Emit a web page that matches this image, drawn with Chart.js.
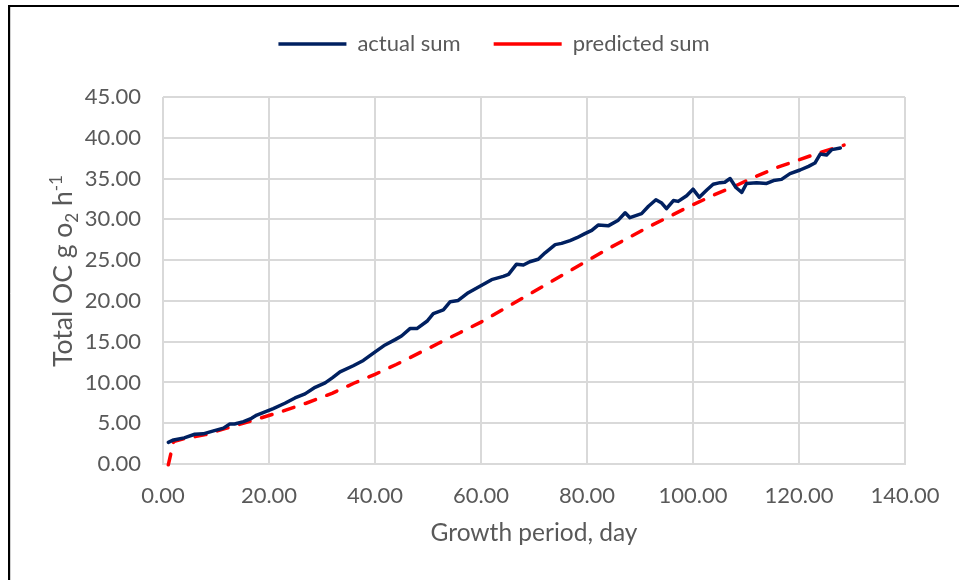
<!DOCTYPE html>
<html>
<head>
<meta charset="utf-8">
<script src="https://cdn.jsdelivr.net/npm/chart.js@4.4.1/dist/chart.umd.min.js"></script>
<style>
  html, body { margin: 0; padding: 0; background: #fff; }
  #wrap { width: 959px; height: 580px; position: relative; }
</style>
</head>
<body>
<div id="wrap"><canvas id="ocChart" width="959" height="580"></canvas></div>
<script>
// actual sum
const actualDays = [1, 2, 4, 6, 7.6, 9.2, 11.4, 12.6, 13.5, 15.2, 16.7, 17.7, 18.9, 20.8, 23, 24.9, 26.8, 28.7, 30.6, 32,
    33.4, 35.9, 37.8, 39.7, 41.9, 43.8, 45, 46.6, 47.9, 49.8, 51, 52.9, 54.2, 55.7, 57.6, 59.8, 62, 64.2, 65.2, 66.7,
    68, 69.2, 70.8, 72.1, 74, 75.2, 76.8, 78.1, 79.6, 80.9, 82.1, 84, 85.9, 87.2, 88.1, 90.3, 91.6, 93, 94.1, 95,
    96.3, 97.2, 98.8, 100, 101.2, 102.6, 103.8, 105.1, 106, 107, 108.1, 109.2, 110.1, 112, 113.9, 115.2, 116.7, 118.3, 120.2, 121.8,
    123, 124, 125.2, 126.2, 127.8];
const actualSum = [2.65, 2.95, 3.2, 3.65, 3.7, 4.0, 4.4, 4.9, 4.9, 5.2, 5.6, 6.0, 6.3, 6.8, 7.45, 8.1, 8.6, 9.4, 9.95, 10.6,
    11.3, 12.05, 12.7, 13.6, 14.6, 15.25, 15.7, 16.6, 16.6, 17.5, 18.45, 18.9, 19.9, 20.05, 21.0, 21.8, 22.6, 23.0, 23.25, 24.5,
    24.4, 24.8, 25.1, 25.9, 26.9, 27.05, 27.4, 27.75, 28.25, 28.65, 29.3, 29.2, 29.9, 30.8, 30.2, 30.7, 31.6, 32.4, 32.0, 31.3,
    32.3, 32.2, 32.9, 33.7, 32.7, 33.6, 34.3, 34.5, 34.55, 35.0, 33.9, 33.3, 34.4, 34.5, 34.4, 34.75, 34.9, 35.6, 36.05, 36.5,
    36.9, 38.0, 37.9, 38.55, 38.75];

// predicted sum
const predictedDays = [1, 2, 4, 8, 12, 17, 22, 27, 32, 36, 40, 44, 48, 52, 56, 60, 64, 68, 72, 76, 80, 84, 88, 92, 96, 100,
    104, 108, 112, 116, 120, 124, 128.5];
const predictedSum = [-0.1, 2.75, 3.1, 3.6, 4.4, 5.35, 6.35, 7.45, 8.7, 9.9, 11.0, 12.2, 13.5, 14.8, 16.1, 17.4, 18.9, 20.4,
    21.9, 23.4, 24.9, 26.4, 27.8, 29.2, 30.5, 31.8, 33.0, 34.1, 35.3, 36.4, 37.3, 38.2, 39.1];

const seriesNames = ['actual sum', 'predicted sum'];
const xTitle = 'Growth period, day';

const FONT = 'Lato, "Open Sans", sans-serif';
const TEXT = '#595959';

function toPoints(xs, ys) {
    return xs.map((x, i) => ({ x: x, y: ys[i] }));
}

// frame line + y title with sub/superscript
const extrasPlugin = {
    id: 'extras',
    afterDraw(chart) {
        const ctx = chart.ctx;
        ctx.save();
        ctx.strokeStyle = '#000';
        ctx.lineWidth = 2;
        ctx.beginPath();
        ctx.moveTo(9, 580);
        ctx.lineTo(9, 6);
        ctx.lineTo(959, 6);
        ctx.stroke();
        ctx.strokeStyle = '#d0d0d0';
        ctx.lineWidth = 1;
        ctx.beginPath();
        ctx.moveTo(10.5, 580);
        ctx.lineTo(10.5, 7);
        ctx.stroke();

        // y axis title
        const big = '26.5px ' + FONT;
        const small = '17px ' + FONT;
        const parts = [
            { t: 'Total OC g o', f: big, dy: 0 },
            { t: '2', f: small, dy: 6 },
            { t: ' h', f: big, dy: 0 },
            { t: '-1', f: small, dy: -10 }
        ];
        let total = 0;
        parts.forEach(p => { ctx.font = p.f; p.w = ctx.measureText(p.t).width; total += p.w; });
        ctx.translate(62, 271);
        ctx.rotate(-Math.PI / 2);
        ctx.fillStyle = TEXT;
        ctx.textBaseline = 'alphabetic';
        let x = -total / 2;
        parts.forEach(p => {
            ctx.font = p.f;
            ctx.fillText(p.t, x, 10 + p.dy);
            x += p.w;
        });
        ctx.restore();
    }
};

new Chart(document.getElementById('ocChart'), {
    type: 'line',
    data: {
        datasets: [{
            label: seriesNames[0],
            data: toPoints(actualDays, actualSum),
            borderColor: '#002060',
            backgroundColor: '#002060',
            borderWidth: 3.5,
            pointRadius: 0,
            tension: 0,
            borderCapStyle: 'round',
            borderJoinStyle: 'round'
        }, {
            label: seriesNames[1],
            data: toPoints(predictedDays, predictedSum),
            borderColor: '#ff0000',
            backgroundColor: '#ff0000',
            borderWidth: 3.5,
            borderDash: [11, 12],
            borderCapStyle: 'round',
            pointRadius: 0,
            tension: 0,
            clip: false
        }]
    },
    options: {
        responsive: false,
        animation: false,
        layout: { padding: { top: 0, left: 83, right: 54, bottom: 0 } },
        plugins: {
            tooltip: { enabled: false },
            legend: {
                position: 'top',
                labels: {
                    usePointStyle: true,
                    pointStyle: 'line',
                    pointStyleWidth: 68,
                    boxWidth: 68,
                    padding: 33,
                    color: TEXT,
                    font: { family: FONT, size: 22 }
                }
            },
            // empty spacer between the legend and the plot area
            subtitle: {
                display: true,
                text: '',
                weight: 500,
                font: { size: 10 },
                padding: { top: 0, bottom: 20 }
            }
        },
        scales: {
            x: {
                type: 'linear',
                min: 0,
                max: 140,
                ticks: {
                    stepSize: 20,
                    padding: 19,
                    color: TEXT,
                    font: { family: FONT, size: 22 },
                    callback: v => v.toFixed(2)
                },
                grid: { color: '#d9d9d9', lineWidth: 2, drawTicks: false },
                border: { color: '#d9d9d9', width: 2 },
                title: {
                    display: true,
                    text: xTitle,
                    color: TEXT,
                    font: { family: FONT, size: 24.5 },
                    padding: { top: 0, bottom: 32 }
                },
                afterFit: s => { s.height = 116; }
            },
            y: {
                min: 0,
                max: 45,
                ticks: {
                    stepSize: 5,
                    padding: 22,
                    color: TEXT,
                    font: { family: FONT, size: 22 },
                    callback: v => v.toFixed(2)
                },
                grid: { color: '#d9d9d9', lineWidth: 2, drawTicks: false },
                border: { display: false },
                afterFit: s => { s.width = 80; }
            }
        }
    },
    plugins: [extrasPlugin]
});
</script>
</body>
</html>
